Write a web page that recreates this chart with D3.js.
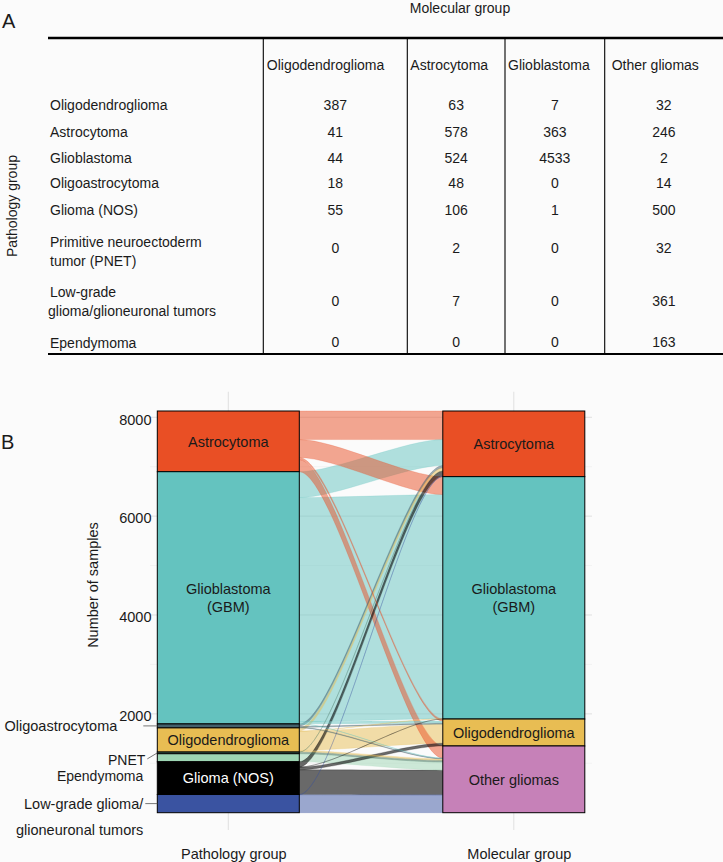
<html>
<head>
<meta charset="UTF-8">
<title>Pathology vs molecular group</title>
<style>
  body { margin: 0; background: #fbfbfb; }
  svg text { font-family: "Liberation Sans", Arial, Helvetica, sans-serif; fill: #1a1a1a; }
</style>
</head>
<body>
<div id="vis"></div>
<script src="https://cdn.jsdelivr.net/npm/d3@7/dist/d3.min.js"></script>
<script>
// ---- data ----
var pathologyGroups = ["Oligodendroglioma", "Astrocytoma", "Glioblastoma", "Oligoastrocytoma",
  "Glioma (NOS)", "PNET", "Low-grade glioma/glioneuronal tumors", "Ependymoma"];
var pathologyTableLabels = [["Oligodendroglioma"], ["Astrocytoma"], ["Glioblastoma"], ["Oligoastrocytoma"],
  ["Glioma (NOS)"], ["Primitive neuroectoderm", "tumor (PNET)"], ["Low-grade", "glioma/glioneuronal tumors"], ["Ependymoma"]];
var molecularGroups = ["Oligodendroglioma", "Astrocytoma", "Glioblastoma", "Other gliomas"];
// rows = pathology group, columns = molecular group
var counts = [
  [387, 63, 7, 32],
  [41, 578, 363, 246],
  [44, 524, 4533, 2],
  [18, 48, 0, 14],
  [55, 106, 1, 500],
  [0, 2, 0, 32],
  [0, 7, 0, 361],
  [0, 0, 0, 163]
];
// stacking order (top to bottom) of the alluvial strata
var pathologyOrder = ["Astrocytoma", "Glioblastoma", "Oligoastrocytoma", "Oligodendroglioma", "PNET",
  "Ependymoma", "Glioma (NOS)", "Low-grade glioma/glioneuronal tumors"];
var molecularOrder = ["Astrocytoma", "Glioblastoma", "Oligodendroglioma", "Other gliomas"];
var yTicks = [2000, 4000, 6000, 8000];

var pathColor = {
  "Astrocytoma": "#e94f25", "Glioblastoma": "#64c3bf", "Oligoastrocytoma": "#42606b",
  "Oligodendroglioma": "#e8bd53", "PNET": "#3f6f5a", "Ependymoma": "#9dd5b3",
  "Glioma (NOS)": "#000000", "Low-grade glioma/glioneuronal tumors": "#3a53a1"
};
var molColor = { "Astrocytoma": "#e94f25", "Glioblastoma": "#64c3bf",
  "Oligodendroglioma": "#e8bd53", "Other gliomas": "#c681b8" };

var W = 723, H = 862;
var svg = d3.select("#vis").append("svg").attr("width", W).attr("height", H);

// ================= Panel A : table =================
var colEdges = [263.3, 407.3, 505, 604.7, 723];
var headPad = [3.5, 3, 3, 7];
var rowBase = [110, 137, 163, 188, 215, 247, 297, 348];   // baseline of first label line
var numBase = [110, 137, 163, 188, 215, 253, 306, 347];

svg.append("text").attr("x", 2).attr("y", 28).style("font-size", "20px").text("A");
svg.append("text").attr("x", 460).attr("y", 13).attr("text-anchor", "middle")
  .style("font-size", "14px").text("Molecular group");
svg.append("text").attr("transform", "translate(17,206) rotate(-90)").attr("text-anchor", "middle")
  .style("font-size", "14px").text("Pathology group");

var tab = svg.append("g");
tab.append("line").attr("x1", 48).attr("x2", W).attr("y1", 38).attr("y2", 38)
  .attr("stroke", "#000").attr("stroke-width", 2.6);
tab.append("line").attr("x1", 48).attr("x2", W).attr("y1", 354).attr("y2", 354)
  .attr("stroke", "#000").attr("stroke-width", 2.2);
tab.selectAll("line.v").data(colEdges.slice(0, 4)).enter().append("line")
  .attr("x1", function(d) { return d; }).attr("x2", function(d) { return d; })
  .attr("y1", 38).attr("y2", 354).attr("stroke", "#000").attr("stroke-width", 1.1);

tab.selectAll("text.head").data(molecularGroups).enter().append("text")
  .attr("x", function(d, i) { return colEdges[i] + headPad[i]; }).attr("y", 70)
  .style("font-size", "14px").text(function(d) { return d; });

pathologyTableLabels.forEach(function(lines, r) {
  var t = tab.append("text").attr("y", rowBase[r]).style("font-size", "14px");
  lines.forEach(function(l, k) {
    t.append("tspan").attr("x", (r == 6 && k == 1) ? 48 : 50).attr("dy", k ? 19 : 0).text(l);
  });
  counts[r].forEach(function(v, c) {
    tab.append("text").attr("x", (colEdges[c] + colEdges[c + 1]) / 2).attr("y", numBase[r])
      .attr("text-anchor", "middle").style("font-size", "14px").text(v);
  });
});

// ================= Panel B : alluvial =================
svg.append("text").attr("x", 1).attr("y", 449).style("font-size", "20px").text("B");

var total = d3.sum(counts, function(r) { return d3.sum(r); });
var y = d3.scaleLinear().domain([0, total]).range([812.7, 411]);
var x = d3.scalePoint().domain(["Pathology group", "Molecular group"]).range([228.3, 513.8]);
var bw = 142;
var xl0 = x("Pathology group") - bw / 2, xl1 = xl0 + bw;
var xr0 = x("Molecular group") - bw / 2, xr1 = xr0 + bw;
var k = y(0) - y(1);

// grid
var grid = svg.append("g");
grid.selectAll("line.h").data(d3.range(1000, 8001, 1000)).enter().append("line")
  .attr("x1", 150).attr("x2", 592)
  .attr("y1", function(d) { return y(d); }).attr("y2", function(d) { return y(d); })
  .attr("stroke", function(d) { return d % 2000 ? "#ececec" : "#e0e0e0"; })
  .attr("stroke-width", function(d) { return d % 2000 ? 0.6 : 1; });
grid.selectAll("line.v").data(x.domain()).enter().append("line")
  .attr("x1", function(d) { return x(d); }).attr("x2", function(d) { return x(d); })
  .attr("y1", 391.7).attr("y2", 830).attr("stroke", "#e0e0e0").attr("stroke-width", 1);

// stratum positions
var leftPos = {}, rightPos = {};
var acc = total;
pathologyOrder.forEach(function(p) {
  var n = d3.sum(counts[pathologyGroups.indexOf(p)]);
  leftPos[p] = { top: acc, bot: acc - n, n: n };
  acc -= n;
});
acc = total;
molecularOrder.forEach(function(m) {
  var c = molecularGroups.indexOf(m);
  var n = d3.sum(counts, function(r) { return r[c]; });
  rightPos[m] = { top: acc, bot: acc - n, n: n };
  acc -= n;
});

// flows: outgoing ordered by target order, incoming ordered by source order
var flows = [];
pathologyOrder.forEach(function(p) {
  var r = pathologyGroups.indexOf(p);
  molecularOrder.forEach(function(m) {
    var v = counts[r][molecularGroups.indexOf(m)];
    if (v > 0) flows.push({ p: p, m: m, v: v });
  });
});
var lOff = {}, rOff = {};
pathologyOrder.forEach(function(p) { lOff[p] = leftPos[p].top; });
molecularOrder.forEach(function(m) { rOff[m] = rightPos[m].top; });
flows.forEach(function(f) { f.l0 = lOff[f.p]; lOff[f.p] -= f.v; f.l1 = lOff[f.p]; });
pathologyOrder.forEach(function(p) {
  flows.filter(function(f) { return f.p == p; }).forEach(function(f) {
    f.r0 = rOff[f.m]; rOff[f.m] -= f.v; f.r1 = rOff[f.m];
  });
});

function ribbon(f) {
  var w = xr0 - xl1, a = xl1 + w / 4, b = xr0 - w / 4;
  return "M" + xl1 + "," + y(f.l0) +
    "C" + a + "," + y(f.l0) + " " + b + "," + y(f.r0) + " " + xr0 + "," + y(f.r0) +
    "L" + xr0 + "," + y(f.r1) +
    "C" + b + "," + y(f.r1) + " " + a + "," + y(f.l1) + " " + xl1 + "," + y(f.l1) + "Z";
}

svg.append("g").selectAll("path").data(flows.slice().sort(function(a, b) { return b.v - a.v; }))
  .enter().append("path")
  .attr("d", ribbon)
  .attr("fill", function(f) { return pathColor[f.p]; })
  .attr("fill-opacity", function(f) { return f.p == "Glioma (NOS)" ? 0.58 : 0.5; })
  .attr("stroke", function(f) { return pathColor[f.p]; })
  .attr("stroke-opacity", 0.35)
  .attr("stroke-width", 0.6);

// strata
var strata = svg.append("g");
pathologyOrder.forEach(function(p) {
  strata.append("rect").attr("x", xl0).attr("width", bw)
    .attr("y", y(leftPos[p].top)).attr("height", leftPos[p].n * k)
    .attr("fill", pathColor[p]).attr("stroke", "#000").attr("stroke-width", 1);
});
molecularOrder.forEach(function(m) {
  strata.append("rect").attr("x", xr0).attr("width", bw)
    .attr("y", y(rightPos[m].top)).attr("height", rightPos[m].n * k)
    .attr("fill", molColor[m]).attr("stroke", "#000").attr("stroke-width", 1);
});

// labels inside strata
var insideLeft = { "Astrocytoma": ["Astrocytoma"], "Glioblastoma": ["Glioblastoma", "(GBM)"],
  "Oligodendroglioma": ["Oligodendroglioma"], "Glioma (NOS)": ["Glioma (NOS)"] };
var insideRight = { "Astrocytoma": ["Astrocytoma"], "Glioblastoma": ["Glioblastoma", "(GBM)"],
  "Oligodendroglioma": ["Oligodendroglioma"], "Other gliomas": ["Other gliomas"] };
function stratumLabel(cx, pos, lines, col) {
  var cy = y((pos.top + pos.bot) / 2);
  var t = strata.append("text").attr("x", cx).attr("text-anchor", "middle")
    .style("font-size", "14.5px").style("fill", col);
  lines.forEach(function(l, i) {
    t.append("tspan").attr("x", cx).attr("y", cy + (i - (lines.length - 1) / 2) * 18)
      .attr("dy", "0.36em").text(l);
  });
}
Object.keys(insideLeft).forEach(function(p) {
  stratumLabel(x("Pathology group"), leftPos[p], insideLeft[p], p == "Glioma (NOS)" ? "#ffffff" : "#1a1a1a");
});
Object.keys(insideRight).forEach(function(m) {
  stratumLabel(x("Molecular group"), rightPos[m], insideRight[m], "#1a1a1a");
});

// repelled labels for the thin strata
var outside = [
  { p: "Oligoastrocytoma", lines: ["Oligoastrocytoma"], tx: -40, ty: 0, lx: -14, ly: 0, fs: 14.5 },
  { p: "PNET", lines: ["PNET"], tx: -12, ty: 7, lx: -10, ly: 6, fs: 14 },
  { p: "Ependymoma", lines: ["Ependymoma"], tx: -14, ty: 18, lx: null, fs: 14 },
  { p: "Low-grade glioma/glioneuronal tumors", lines: ["Low-grade glioma/", "glioneuronal tumors"], tx: -14, ty: 0, lx: -12, ly: 0, fs: 14.5 }
];
outside.forEach(function(o) {
  var cy = y((leftPos[o.p].top + leftPos[o.p].bot) / 2);
  if (o.lx != null) {
    svg.append("line").attr("x1", xl0 + o.lx).attr("y1", cy + o.ly).attr("x2", xl0).attr("y2", cy)
      .attr("stroke", "#555").attr("stroke-width", 0.8);
  }
  var t = svg.append("text").attr("text-anchor", "end").style("font-size", o.fs + "px");
  o.lines.forEach(function(l, i) {
    t.append("tspan").attr("x", xl0 + o.tx).attr("y", cy + o.ty + i * 26).attr("dy", "0.36em").text(l);
  });
});

// y axis (labels only)
svg.append("g").selectAll("text").data(yTicks).enter().append("text")
  .attr("x", 151.5).attr("y", function(d) { return y(d); }).attr("dy", "0.5em")
  .attr("text-anchor", "end").style("font-size", "14.5px").text(function(d) { return d; });
svg.append("text").attr("transform", "translate(98,585) rotate(-90)").attr("text-anchor", "middle")
  .style("font-size", "14.5px").text("Number of samples");

// x axis labels
svg.append("g").selectAll("text").data(x.domain()).enter().append("text")
  .attr("x", function(d) { return x(d) + 5.5; }).attr("y", 859)
  .attr("text-anchor", "middle").style("font-size", "14.5px").text(function(d) { return d; });
</script>
</body>
</html>
